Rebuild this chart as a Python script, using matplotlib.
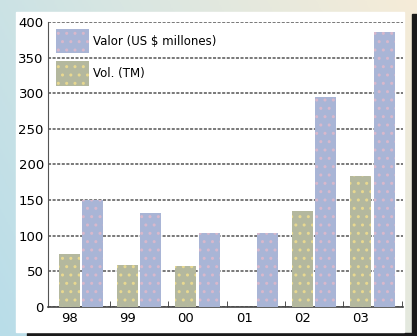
import numpy as np
import matplotlib
matplotlib.use('Agg')
import matplotlib.pyplot as plt
from matplotlib.patches import Rectangle
from matplotlib.colors import LinearSegmentedColormap

years = ['98', '99', '00', '01', '02', '03']
vol_tm = [74, 59, 57, 0, 134, 184]
valor_usd = [150, 132, 104, 104, 295, 386]

blue = '#a9b5d6'
green = '#b4b89e'

plt.rcParams['font.family'] = ['Liberation Sans Narrow', 'DejaVu Sans']

fig = plt.figure(figsize=(4.17, 3.36), dpi=100)

# background frame: blue -> cream gradient, white panel, black shadow
bg = fig.add_axes([0, 0, 1, 1], zorder=-10)
grad = np.linspace(0, 1, 256)
gx, gy = np.meshgrid(grad, grad)
cmap = LinearSegmentedColormap.from_list('frame', ['#b9dde9', '#d8e6e2', '#f6ecd8'])
bg.imshow((gx * 0.7 + (1 - gy) * 0.3), cmap=cmap, extent=[0, 417, 0, 336],
          origin='upper', aspect='auto')
bg.add_patch(Rectangle((412, 0), 5, 322, color='#1a1a1a'))
bg.add_patch(Rectangle((27, 0), 390, 3, color='#1a1a1a'))
bg.add_patch(Rectangle((16, 4), 388, 320, color='white'))
bg.set_xlim(0, 417)
bg.set_ylim(0, 336)
bg.axis('off')

ax = fig.add_axes([48 / 417, 1 - 306.7 / 336, 355 / 417, 284.7 / 336])
ax.set_facecolor('none')

x = np.arange(len(years))
w = 0.36
ax.bar(x - 0.2, vol_tm, w, color=green, edgecolor='#e8d890', linewidth=0,
       hatch='..', label='Vol. (TM)', zorder=3)
ax.bar(x + 0.2, valor_usd, w, color=blue, edgecolor='#d8b8cc', linewidth=0,
       hatch='..', label='Valor (US $ millones)', zorder=3)

ax.set_xlim(-0.56, 5.52)
ax.set_ylim(0, 400)
ax.set_yticks(np.arange(0, 401, 50))
ax.set_xticks(x - 0.2)
ax.set_xticklabels(years)
ax.set_xticks(x + 0.5, minor=True)
ax.tick_params(axis='x', which='major', length=0, pad=4, labelsize=9.5)
ax.tick_params(axis='x', which='minor', direction='in', length=4, color='#333')
ax.tick_params(axis='y', length=0, pad=3, labelsize=9.5)

ax.yaxis.grid(True, color='#555555', linestyle=(0, (2, 1)), linewidth=1.1)
ax.set_axisbelow(True)
for s in ['top', 'right']:
    ax.spines[s].set_visible(False)
ax.spines['left'].set_linestyle((0, (2, 1)))
ax.spines['left'].set_color('#555555')
ax.spines['bottom'].set_color('#444444')
ax.spines['bottom'].set_linewidth(1.2)

h, l = ax.get_legend_handles_labels()
ax.legend(h[::-1], l[::-1], loc='upper left', frameon=False, fontsize=8.5,
          handlelength=2.8, handleheight=2.8, borderaxespad=0.3,
          labelspacing=0.7, handletextpad=0.35, bbox_to_anchor=(0.0, 1.005))

fig.savefig('out.png', dpi=100)
